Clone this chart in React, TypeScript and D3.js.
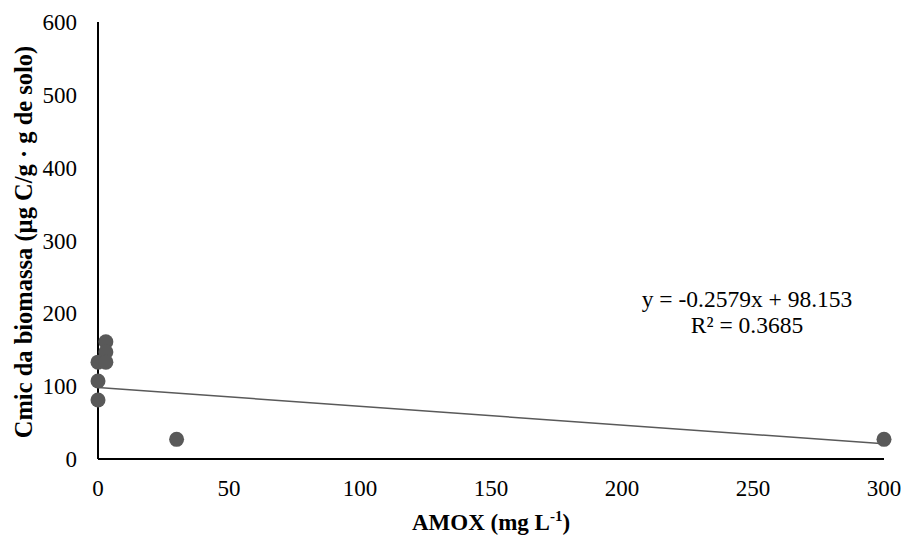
import React from "react";
import * as d3 from "d3";

const xValues = [0, 0, 0, 3, 3, 3, 30, 300];
const yValues = [133, 107, 81, 161, 147, 133, 27, 27];
const xTicks = [0, 50, 100, 150, 200, 250, 300];
const yTicks = [0, 100, 200, 300, 400, 500, 600];
const slope = -0.2579;
const intercept = 98.153;
const equationText = "y = -0.2579x + 98.153";
const r2Text = "R² = 0.3685";

export default function App() {
  const W = 907, H = 535;
  const x = d3.scaleLinear().domain([0, 300]).range([98, 884]);
  const y = d3.scaleLinear().domain([0, 600]).range([459, 22]);
  const font = "Liberation Serif, Times New Roman, DejaVu Serif, serif";
  const line = d3.line<number>().x((d) => x(d)).y((d) => y(slope * d + intercept));
  return (
    <svg width={W} height={H} style={{ position: "absolute", left: 0, top: 0, background: "#fff", fontFamily: font }}>
      {yTicks.map((t) => (
        <text key={"y" + t} x={77} y={y(t) + 8} textAnchor="end" fontSize={23} fill="#000">{t}</text>
      ))}
      {xTicks.map((t) => (
        <text key={"x" + t} x={x(t)} y={496} textAnchor="middle" fontSize={23} fill="#000">{t}</text>
      ))}
      <line x1={x(0)} x2={x(0)} y1={y(600)} y2={y(0)} stroke="#000" strokeWidth={2} />
      <line x1={x(0)} x2={x(300)} y1={y(0)} y2={y(0)} stroke="#000" strokeWidth={2} />
      <path d={line([0, 300]) || ""} stroke="#595959" strokeWidth={1.5} fill="none" />
      {xValues.map((xv, i) => (
        <circle key={i} cx={x(xv)} cy={y(yValues[i])} r={7.5} fill="#595959" />
      ))}
      <text x={747} y={307} textAnchor="middle" fontSize={23.5} fill="#000">{equationText}</text>
      <text x={747} y={333} textAnchor="middle" fontSize={23.5} fill="#000">{r2Text}</text>
      <text transform={`translate(32,242) rotate(-90)`} textAnchor="middle" fontSize={24.5} fontWeight="bold" fill="#000">
        Cmic da biomassa (µg C/g · g de solo)
      </text>
      <text x={491} y={530} textAnchor="middle" fontSize={23} fontWeight="bold" fill="#000">
        AMOX (mg L<tspan dy={-9} fontSize={15}>-1</tspan><tspan dy={9}>)</tspan>
      </text>
    </svg>
  );
}
